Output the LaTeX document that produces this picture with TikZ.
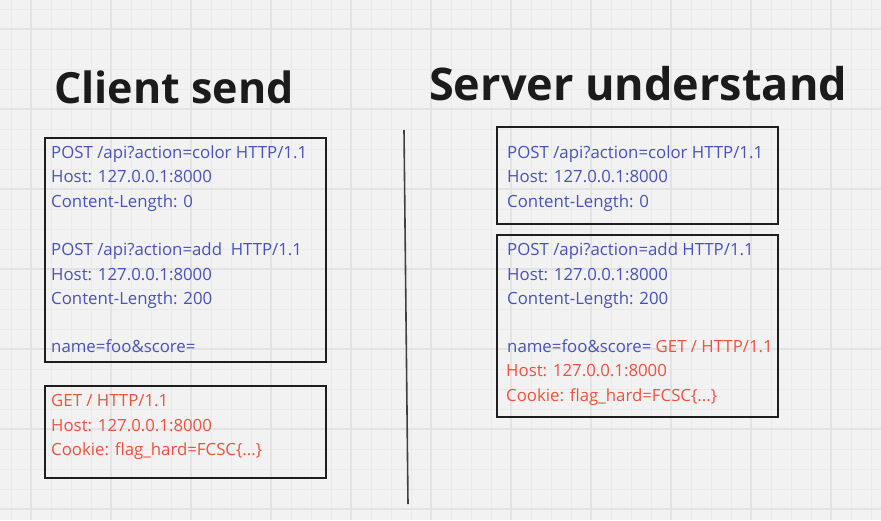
\documentclass[tikz,border=0pt]{standalone}
\usepackage{fontspec}
\setmainfont{Open Sans}
\definecolor{bgc}{HTML}{F2F2F2}
\definecolor{minorc}{HTML}{EAEAEA}
\definecolor{majorc}{HTML}{E3E3E3}
\definecolor{reqblue}{HTML}{4752C0}
\definecolor{reqred}{HTML}{F4503A}
\definecolor{titlec}{HTML}{1B1B1B}
\definecolor{boxc}{HTML}{1E1E1E}
\begin{document}
\begin{tikzpicture}[x=1pt,y=-1pt,
  title/.style={anchor=base west, inner sep=0pt, font=\bfseries, text=titlec},
  line/.style={anchor=base west, inner sep=0pt, font=\fontsize{16.8}{20}\selectfont},
  bl/.style={line, text=reqblue},
  rd/.style={line, text=reqred},
  reqbox/.style={draw=boxc, line width=2pt, rectangle, anchor=north west, inner sep=0pt}
]
\useasboundingbox (0,0) rectangle (881,520);
\fill[bgc] (0,0) rectangle (881,520);
\foreach \x in {11,31,...,871} \draw[minorc, line width=1pt] (\x,0) -- (\x,520);
\foreach \y in {9,29,...,509} \draw[minorc, line width=1pt] (0,\y) -- (881,\y);
\foreach \x in {31,111,...,831} \draw[majorc, line width=2pt] (\x,0) -- (\x,520);
\foreach \y in {29,109,...,509} \draw[majorc, line width=2pt] (0,\y) -- (881,\y);

% titles
\node[title, font=\fontsize{43}{50}\selectfont\bfseries] (tclient) at (54,103) {Client send};
\node[title, font=\fontsize{45}{50}\selectfont\bfseries] (tserver) at (429,100) {Server understand};

% boxes
\node[reqbox, minimum width=281pt, minimum height=224pt] (c1) at (44,137) {};
\node[reqbox, minimum width=281pt, minimum height=92pt] (c2) at (44,385) {};
\node[reqbox, minimum width=281pt, minimum height=97pt] (s1) at (496,126) {};
\node[reqbox, minimum width=281pt, minimum height=182pt] (s2) at (496,234) {};

% divider
\coordinate (d1) at (404,130);
\coordinate (d2) at (408,504);
\draw[boxc!85, line width=1.6pt] (d1) -- (d2);

% client box 1
\node[bl] (c1a) at (51,158) {POST /api?action=color HTTP/1.1};
\node[bl] (c1b) at (51,182.5) {Host: 127.0.0.1:8000};
\node[bl] (c1c) at (51,207) {Content-Length: 0};
\node[bl] (c1d) at (51,255.5) {POST /api?action=add~~HTTP/1.1};
\node[bl] (c1e) at (51,280) {Host: 127.0.0.1:8000};
\node[bl] (c1f) at (51,304) {Content-Length: 200};
\node[bl] (c1g) at (51,352.5) {name=foo\&score=};

% client box 2
\node[rd] (c2a) at (51,406.5) {GET / HTTP/1.1};
\node[rd] (c2b) at (51,431) {Host: 127.0.0.1:8000};
\node[rd] (c2c) at (51,455) {Cookie: flag\_hard=FCSC\{...\}};

% server box 1
\node[bl] (s1a) at (507,158) {POST /api?action=color HTTP/1.1};
\node[bl] (s1b) at (507,182.5) {Host: 127.0.0.1:8000};
\node[bl] (s1c) at (507,207) {Content-Length: 0};

% server box 2
\node[bl] (s2a) at (507,255) {POST /api?action=add HTTP/1.1};
\node[bl] (s2b) at (507,280) {Host: 127.0.0.1:8000};
\node[bl] (s2c) at (507,304) {Content-Length: 200};
\node[bl] (s2d) at (507,352.5) {name=foo\&score=};
\node[rd] (s2e) at (655.5,352.5) {GET / HTTP/1.1};
\node[rd] (s2f) at (506,376.5) {Host: 127.0.0.1:8000};
\node[rd] (s2g) at (506,401) {Cookie: flag\_hard=FCSC\{...\}};
\end{tikzpicture}
\end{document}
